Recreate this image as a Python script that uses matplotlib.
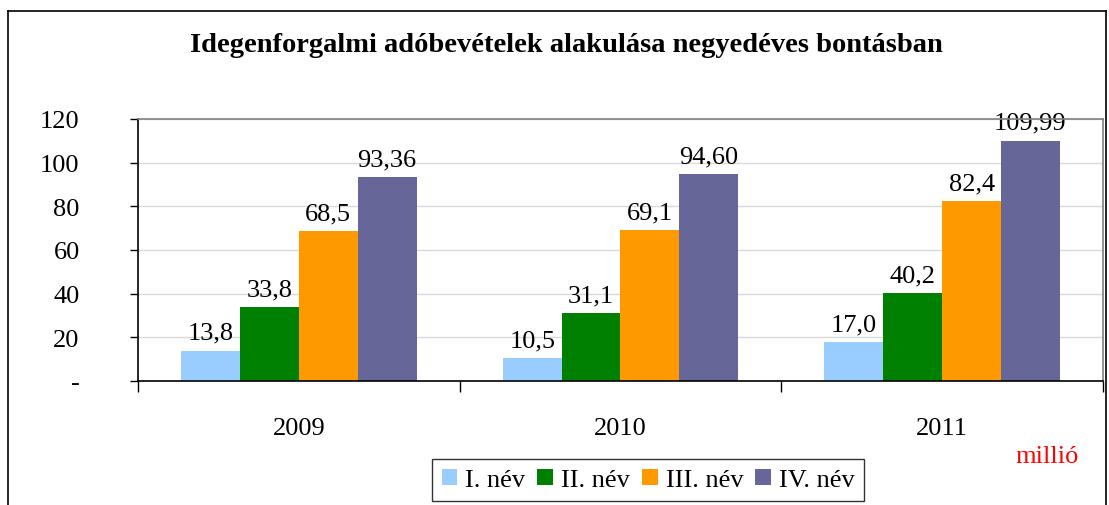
import numpy as np
import matplotlib.pyplot as plt
from matplotlib.lines import Line2D

# Data
years = ['2009', '2010', '2011']
series_names = ['I. név', 'II. név', 'III. név', 'IV. név']
q1 = [13.8, 10.5, 17.7]
q2 = [33.8, 31.1, 40.2]
q3 = [68.5, 69.1, 82.4]
q4 = [93.36, 94.60, 109.99]
q1_labels = ['13,8', '10,5', '17,0']
q2_labels = ['33,8', '31,1', '40,2']
q3_labels = ['68,5', '69,1', '82,4']
q4_labels = ['93,36', '94,60', '109,99']
y_ticks = [0, 20, 40, 60, 80, 100, 120]
y_tick_labels = ['-', '20', '40', '60', '80', '100', '120']

colors = ['#99CCFF', '#008000', '#FF9900', '#666699']
values = [q1, q2, q3, q4]
labels = [q1_labels, q2_labels, q3_labels, q4_labels]

plt.rcParams['font.family'] = ['Liberation Serif', 'DejaVu Serif']
FS = 19

W, H = 1109, 506
fig = plt.figure(figsize=(W / 100, H / 100), dpi=100)
ax = fig.add_axes([138 / W, (H - 382) / H, (1103 - 138) / W, (382 - 120) / H])

x = np.arange(len(years))
width = 0.183
offsets = (np.arange(4) - 1.5) * width
for vals, labs, col, name, off in zip(values, labels, colors, series_names, offsets):
    bars = ax.bar(x + off, vals, width, color=col, label=name, zorder=3)
    ax.bar_label(bars, labels=labs, padding=5, fontsize=FS)

ax.set_xlim(-0.5, 2.5)
ax.set_ylim(0, 120)
ax.set_yticks(y_ticks)
ax.set_yticklabels(y_tick_labels, fontsize=FS)
ax.tick_params(axis='y', direction='out', length=6, pad=36, width=1)

# category separators as major ticks, labels on minor ticks
ax.set_xticks([-0.5, 0.5, 1.5, 2.5])
ax.set_xticklabels([])
ax.set_xticks(x, minor=True)
ax.set_xticklabels(years, minor=True, fontsize=FS)
ax.tick_params(axis='x', which='major', direction='out', length=8, width=1)
ax.tick_params(axis='x', which='minor', length=0, pad=26)

ax.grid(axis='y', color='#D9D9D9', linewidth=1, zorder=0)
ax.spines['left'].set_color('black')
ax.spines['bottom'].set_color('black')
ax.spines['top'].set_color('#808080')
ax.spines['right'].set_color('#808080')
for s in ax.spines.values():
    s.set_linewidth(1.2)
    s.set_zorder(4)

fig.text(566 / W, 1 - 46 / H, 'Idegenforgalmi adóbevételek alakulása negyedéves bontásban',
         ha='center', va='center', fontsize=20.5, fontweight='bold')

fig.text(1047 / W, 1 - 457 / H, 'millió', ha='center', va='center', fontsize=FS, color='red')

leg = ax.legend(loc='center', bbox_to_anchor=(648 / W, 1 - 481 / H),
                bbox_transform=fig.transFigure, ncol=4, fontsize=FS, frameon=True,
                fancybox=False, edgecolor='black', handlelength=0.6, handleheight=0.6,
                handletextpad=0.3, columnspacing=0.45, borderpad=0.35, borderaxespad=0)
leg.get_frame().set_linewidth(1)

# outer border of the chart area
fig.add_artist(Line2D([8 / W, 8 / W], [0, 1 - 12 / H], color='black', lw=1.2, transform=fig.transFigure))
fig.add_artist(Line2D([8 / W, 1106 / W], [1 - 12 / H, 1 - 12 / H], color='black', lw=1.2, transform=fig.transFigure))
fig.add_artist(Line2D([1106 / W, 1106 / W], [0, 1 - 12 / H], color='black', lw=1.2, transform=fig.transFigure))

fig.savefig('out.png', dpi=100)
